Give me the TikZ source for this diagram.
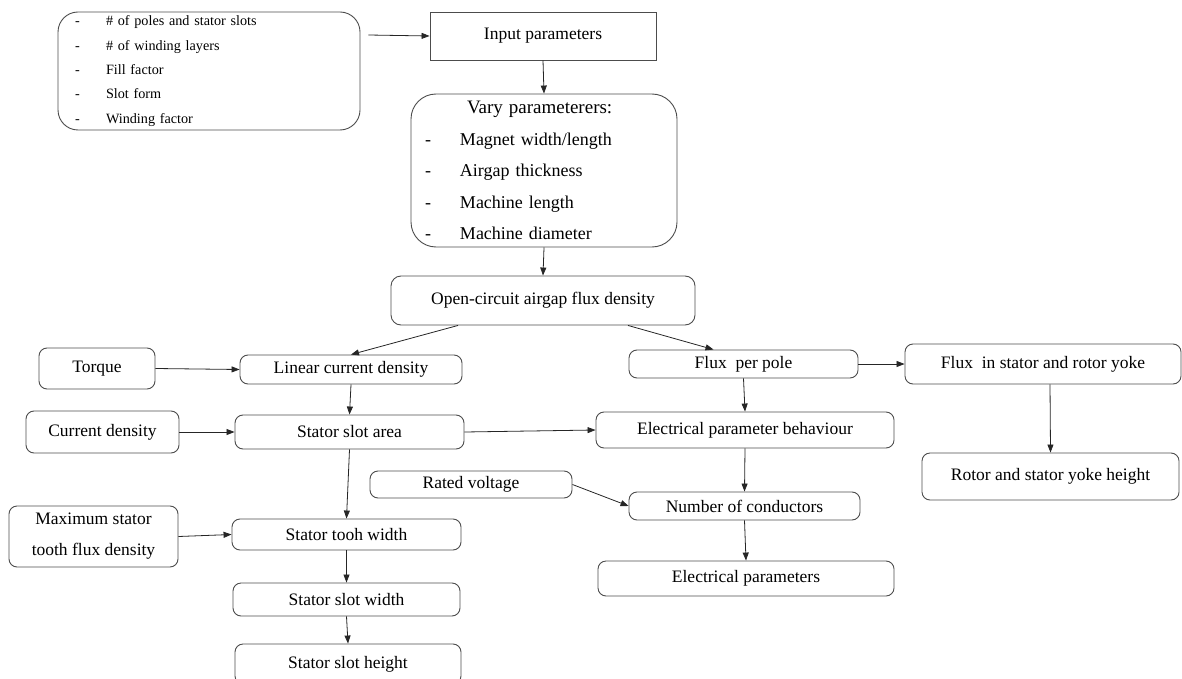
\documentclass[tikz,border=0pt]{standalone}
\usepackage{fontspec}
\setmainfont{Liberation Serif}
\usetikzlibrary{arrows.meta,calc}
\begin{document}
\begin{tikzpicture}[x=1pt,y=-1pt,
  box/.style={draw=black!70, line width=0.9pt, rounded corners=8pt, inner sep=0pt,
    font=\fontsize{17.5}{20}\selectfont, text=black},
  arr/.style={-{Triangle[length=8pt,width=6pt]}, line width=0.8pt, draw=black!85}]
\useasboundingbox (0,0) rectangle (1182,679);
\clip (0,0) rectangle (1182,679);

\node[box, rounded corners=20pt, minimum width=302, minimum height=118, text width=268,
  inner xsep=17pt, align=left, font=\fontsize{14.2}{24.3}\selectfont] (list) at (209,71)
  {\makebox[31pt][l]{-}\# of poles and stator slots\\
   \makebox[31pt][l]{-}\# of winding layers\\
   \makebox[31pt][l]{-}Fill factor\\
   \makebox[31pt][l]{-}Slot form\\
   \makebox[31pt][l]{-}Winding factor};
\node[box, rounded corners=0pt, minimum width=226, minimum height=48] (input) at (543,36) {Input parameters};
\node[box, rounded corners=25pt, minimum width=266, minimum height=153, text width=238,
  inner xsep=14pt, align=left, font=\fontsize{18}{31.5}\selectfont] (vary) at (544,170.5)
  {\hspace*{42pt}{\fontsize{19}{31.5}\selectfont Vary parameterers:}\\
   \makebox[35pt][l]{-}Magnet width/length\\
   \makebox[35pt][l]{-}Airgap thickness\\
   \makebox[35pt][l]{-}Machine length\\
   \makebox[35pt][l]{-}Machine diameter};
\node[box, rounded corners=10pt, minimum width=304, minimum height=49] (open) at (543,300.5) {Open-circuit airgap flux density};
\node[box, minimum width=116, minimum height=41] (torque) at (97,368.5) {Torque};
\node[box, minimum width=222, minimum height=29] (linear) at (351,369.5) {Linear current density};
\node[box, minimum width=229, minimum height=28] (fpp) at (743.5,364) {Flux\ \ per pole};
\node[box, minimum width=276, minimum height=40] (fyoke) at (1043,364) {Flux\ \ in stator and rotor yoke};
\node[box, minimum width=153, minimum height=42] (curdens) at (102.5,432) {Current density};
\node[box, minimum width=229, minimum height=34] (slotarea) at (349.5,432) {Stator slot area};
\node[box, minimum width=298, minimum height=36] (elecbeh) at (745,430) {Electrical parameter behaviour};
\node[box, minimum width=257, minimum height=47] (rotor) at (1050.5,476.5) {Rotor and stator yoke height};
\node[box, minimum width=202, minimum height=27] (rated) at (471,484.5) {Rated voltage};
\node[box, minimum width=231, minimum height=28] (numcond) at (744.5,506) {Number of conductors};
\node[box, minimum width=169, minimum height=61, align=center, font=\fontsize{17.5}{31}\selectfont] (maxst) at (93.5,536.5) {Maximum stator\\tooth flux density};
\node[box, minimum width=229, minimum height=31] (tooth) at (346.5,534.5) {Stator tooh width};
\node[box, minimum width=296, minimum height=35] (elecpar) at (746,578.5) {Electrical parameters};
\node[box, minimum width=227, minimum height=33] (slotw) at (346.5,599.5) {Stator slot width};
\node[box, minimum width=226, minimum height=40] (sloth) at (348,664) {Stator slot height};

\draw[arr] ($(list.east)+(8,-36)$) -- (input.west);
\draw[arr] (input.south) -- (vary.north);
\draw[arr] (vary.south) -- (open.north);
\draw[arr] ($(open.south)+(-85,0)$) -- (linear.north);
\draw[arr] ($(open.south)+(85,0)$) -- ($(fpp.north)+(-30,0)$);
\draw[arr] (torque.east) -- (linear.west);
\draw[arr] (linear.south) -- (slotarea.north);
\draw[arr] (curdens.east) -- (slotarea.west);
\draw[arr] (slotarea.east) -- (elecbeh.west);
\draw[arr] (fpp.south) -- (elecbeh.north);
\draw[arr] (fpp.east) -- (fyoke.west);
\draw[arr] ($(fyoke.south)+(7,0)$) -- (rotor.north);
\draw[arr] (elecbeh.south) -- (numcond.north);
\draw[arr] (rated.east) -- (numcond.west);
\draw[arr] (numcond.south) -- (elecpar.north);
\draw[arr] (slotarea.south) -- (tooth.north);
\draw[arr] (maxst.east) -- (tooth.west);
\draw[arr] (tooth.south) -- (slotw.north);
\draw[arr] (slotw.south) -- (sloth.north);
\end{tikzpicture}
\end{document}
